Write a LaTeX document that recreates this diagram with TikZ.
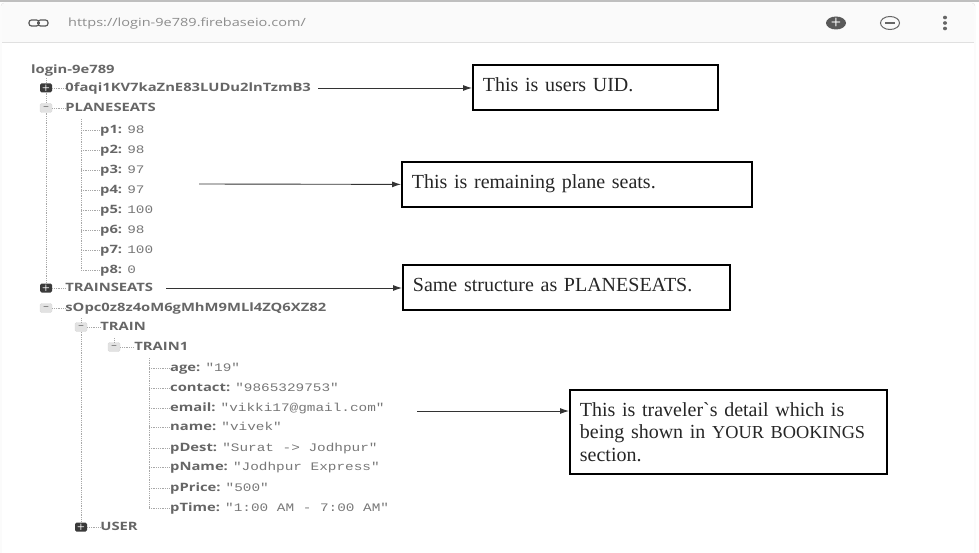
\documentclass[tikz,border=0pt]{standalone}
\usepackage{fontspec}
\newfontfamily\notefont{Liberation Serif}
\newfontfamily\keyfont[FakeStretch=1.285]{Open Sans}
\newfontfamily\valfont[FakeStretch=1.25]{Liberation Mono}
\usetikzlibrary{arrows.meta,positioning,shapes.geometric}
\definecolor{keygray}{HTML}{666666}
\definecolor{valgray}{HTML}{777777}
\definecolor{linegray}{HTML}{A8A8A8}
\definecolor{expdark}{HTML}{3A3A3A}
\definecolor{expblank}{HTML}{E2E2E2}
\definecolor{headbg}{HTML}{FAFAFA}

\begin{document}
\begin{tikzpicture}[
      x=1pt, y=-1pt,
      keynode/.style={anchor=west, inner sep=0pt, text height=9.5pt, text depth=2.5pt, text=keygray, font=\keyfont\fontsize{11.5}{13}\selectfont\bfseries},
      notebox/.style={draw, line width=1.8pt, anchor=north west, align=left, inner xsep=10pt, inner ysep=0pt, text width=#1, font=\notefont\fontsize{20}{22.5}\selectfont, text=black!85},
      oneline/.style={text depth=6pt, minimum height=45pt},
      expplus/.style={fill=expdark, rounded corners=1.5pt, minimum width=12pt, minimum height=9pt, inner sep=0pt, text=white, font=\sffamily\bfseries\fontsize{9}{9}\selectfont},
      expminus/.style={fill=expblank, draw=black!15, rounded corners=1.5pt, minimum width=12pt, minimum height=9pt, inner sep=0pt, text=black!65, font=\sffamily\bfseries\fontsize{9}{9}\selectfont},
      treeline/.style={linegray, densely dotted, line width=0.8pt},
      arrow/.style={-{Latex[length=9pt, width=6pt]}, line width=0.9pt, black!80}
    ]
    \useasboundingbox (0,0) rectangle (979,553);
    % page frame and header
    \fill[black!25] (0,0) rectangle (979,2);
    \draw[black!12, rounded corners=3pt] (1,3) rectangle (975,560);
    \fill[headbg] (2,4) rectangle (974,42);
    \draw[black!12] (2,42) -- (974,42);
    \node[text=black!45, anchor=west, inner sep=0pt, font=\keyfont\fontsize{11.3}{13}\selectfont] (url) at (68,23.5) {https://login-9e789.firebaseio.com/};
    \node[draw=black!65, line width=1.2pt, rounded corners=2.5pt, minimum width=10pt, minimum height=6pt, inner sep=0pt] (linkl) at (34,23) {};
    \node[draw=black!65, line width=1.2pt, rounded corners=2.5pt, minimum width=10pt, minimum height=6pt, inner sep=0pt] (linkr) at (43,23) {};
    \draw[black!65, line width=1.2pt] (linkl) -- (linkr);
    \node[ellipse, fill=black!65, minimum width=20pt, minimum height=13pt, inner sep=0pt, text=white, font=\sffamily\bfseries\fontsize{12}{12}\selectfont] (zoomin) at (836,23) {+};
    \node[ellipse, draw=black!60, line width=1pt, minimum width=19pt, minimum height=13pt, inner sep=0pt] (zoomout) at (890,23) {};
    \draw[black!60, line width=1.2pt] ([xshift=-5pt]zoomout.center) -- ([xshift=5pt]zoomout.center);
    \foreach \d in {17.5,23,28.5}
      \fill[black!60] (945,\d) ellipse (2pt and 1.8pt);

    % tree
    \node[keynode] (root) at (31,70.5) {login-9e789};
    \node[expplus] (expuid) at (46,88) {+};
    \node[keynode, right=13pt of expuid] (uid) {0faqi1KV7kaZnE83LUDu2lnTzmB3};
    \node[expminus] (expplane) at (46,108) {--};
    \node[keynode, right=13pt of expplane] (plane) {PLANESEATS};
    \node[expplus] (exptrainseats) at (46,288) {+};
    \node[keynode, right=13pt of exptrainseats] (trainseats) {TRAINSEATS};
    \node[expminus] (expsec) at (46,308) {--};
    \node[keynode, right=13pt of expsec] (sec) {sOpc0z8z4oM6gMhM9MLl4ZQ6XZ82};
    \node[expminus] (exptrain) at (81,327) {--};
    \node[keynode, right=13pt of exptrain] (train) {TRAIN};
    \node[expminus] (exptrainone) at (114,347) {--};
    \node[keynode, right=14pt of exptrainone] (trainone) {TRAIN1};
    \node[expplus] (expuser) at (81,527) {+};
    \node[keynode, right=13pt of expuser] (user) {USER};

    \coordinate (rootstem) at (46,78);
    \coordinate (planestem) at (81,119);
    \coordinate (trainstem) at (81,318);
    \coordinate (onestem) at (114,338);
    \coordinate (detailstem) at (149,358);

    % leaves
    \foreach \n/\v/\y in {p1/98/130, p2/98/150, p3/97/170, p4/97/190, p5/100/210, p6/98/230, p7/100/250, p8/0/270} {
      \node[keynode] (\n) at (100,\y) {\n: {\valfont\mdseries\color{valgray}\v}};
      \draw[treeline] (planestem |- \n) -- (\n.west);
    }
    \foreach \n/\v/\y in {age/"19"/368, contact/"9865329753"/388, email/"vikki17@gmail.com"/408, name/"vivek"/427, pDest/"Surat -> Jodhpur"/448, pName/"Jodhpur Express"/467, pPrice/"500"/488, pTime/"1:00 AM - 7:00 AM"/508} {
      \node[keynode] (\n) at (170,\y) {\n: {\valfont\mdseries\color{valgray}\v}};
      \draw[treeline] (detailstem |- \n) -- (\n.west);
    }
    \draw[treeline] (rootstem) -- (expuid) -- (expplane) -- (exptrainseats);
    \draw[treeline] (planestem) -- (planestem |- p8);
    \draw[treeline] (trainstem) -- (exptrain) -- (expuser);
    \draw[treeline] (onestem) -- (exptrainone);
    \draw[treeline] (detailstem) -- (detailstem |- pTime);
    \foreach \e/\k in {expuid/uid, expplane/plane, exptrainseats/trainseats, expsec/sec, exptrain/train, exptrainone/trainone, expuser/user}
      \draw[treeline] (\e) -- (\k);

    % notes
    \node[notebox=225pt, oneline] (uidnote) at (472,64) {This is users UID.};
    \node[notebox=330pt, oneline] (planenote) at (401,161) {This is remaining plane seats.};
    \node[notebox=307pt, oneline] (samenote) at (402,264) {Same structure as PLANESEATS.};
    \node[notebox=297pt, minimum height=84pt] (travelnote) at (569,389) {This is traveler`s detail which is\\being shown in {\fontsize{18.3}{22.5}\selectfont YOUR BOOKINGS}\\section.};

    \coordinate (planetail) at (199,184);
    \coordinate (emailtail) at (417,411);
    \draw[arrow] ([xshift=7pt]uid.east) -- (uidnote.west |- uid.east);
    \draw[arrow] (planetail) -- (planenote.west);
    \draw[arrow] ([xshift=13pt]trainseats.east) -- (samenote.west |- trainseats.east);
    \draw[arrow] (emailtail) -- (travelnote.west |- emailtail);
  \end{tikzpicture}
\end{document}
